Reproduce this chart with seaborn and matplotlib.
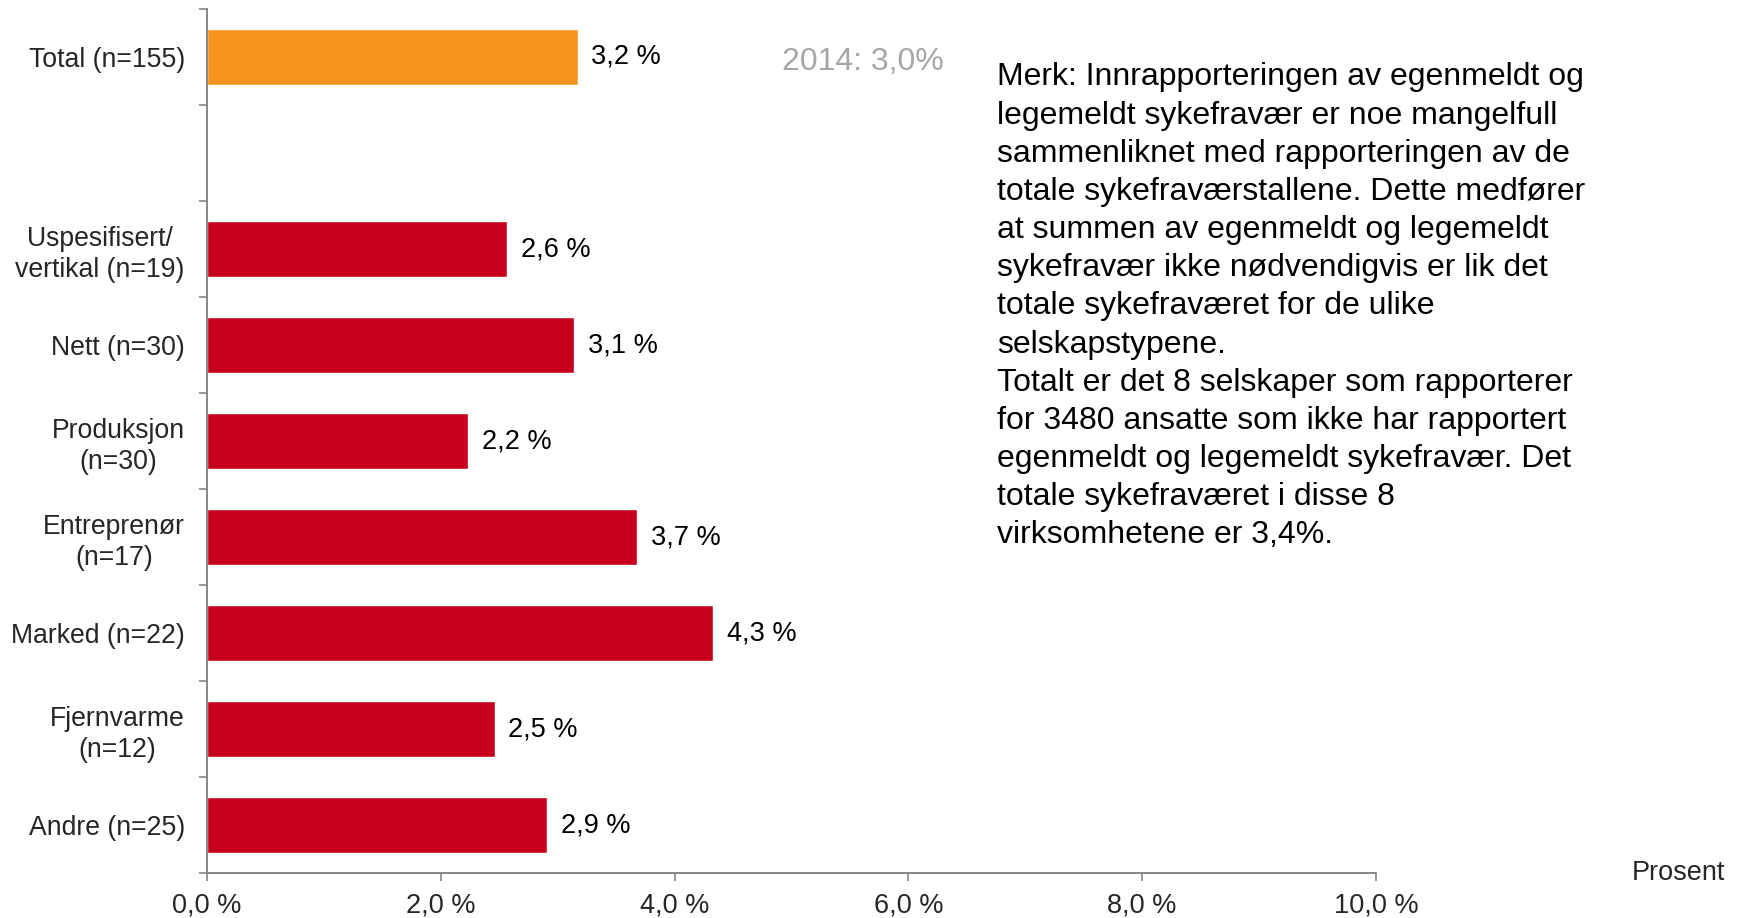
import pandas as pd
import seaborn as sns
import matplotlib.pyplot as plt

# Data
categories = ["Total (n=155)", "", "Uspesifisert/\nvertikal (n=19)", "Nett (n=30)",
              "Produksjon\n(n=30)", "Entreprenør\n(n=17)", "Marked (n=22)",
              "Fjernvarme\n(n=12)", "Andre (n=25)"]
values = [3.17, None, 2.57, 3.14, 2.23, 3.68, 4.33, 2.46, 2.91]
bar_colors = ["#F7941D", "#FFFFFF", "#C8001E", "#C8001E", "#C8001E",
              "#C8001E", "#C8001E", "#C8001E", "#C8001E"]
x_ticks = [0, 2, 4, 6, 8, 10]
x_tick_labels = ["0,0 %", "2,0 %", "4,0 %", "6,0 %", "8,0 %", "10,0 %"]
prev_year_text = "2014: 3,0%"
note_lines = [
    "Merk: Innrapporteringen av egenmeldt og",
    "legemeldt sykefravær er noe mangelfull",
    "sammenliknet med rapporteringen av de",
    "totale sykefraværstallene. Dette medfører",
    "at summen av egenmeldt og legemeldt",
    "sykefravær ikke nødvendigvis er lik det",
    "totale sykefraværet for de ulike",
    "selskapstypene.",
    "Totalt er det 8 selskaper som rapporterer",
    "for 3480 ansatte som ikke har rapportert",
    "egenmeldt og legemeldt sykefravær. Det",
    "totale sykefraværet i disse 8",
    "virksomhetene er 3,4%.",
]

sns.set_style("ticks")
plt.rcParams['font.family'] = ['Liberation Sans', 'DejaVu Sans']

df = pd.DataFrame({"kategori": categories, "verdi": values})
df_bars = df.dropna()
palette = dict(zip(categories, bar_colors))

fig = plt.figure(figsize=(17.43, 9.18), dpi=100)
ax = fig.add_axes([0.1188, 0.049, 0.6706, 0.9412])

sns.barplot(data=df_bars, x="verdi", y="kategori", hue="kategori", order=categories,
            palette=palette, width=0.58, saturation=1, legend=False, ax=ax, orient="h")

# value labels next to bars
for cont in ax.containers:
    labels = [f"{v:.1f} %".replace(".", ",") for v in cont.datavalues]
    ax.bar_label(cont, labels=labels, padding=10, fontsize=19.5, color="black")

ax.set_xlim(0, 10)
ax.set_ylim(len(categories) - 0.5, -0.5)
ax.set_xticks(x_ticks)
ax.set_xticklabels(x_tick_labels, fontsize=19.5)
ax.set_yticks(range(len(categories)))
ax.set_yticklabels(categories, fontsize=19.2, multialignment="center", linespacing=1.25)
ax.set_yticks([i - 0.5 for i in range(len(categories) + 1)], minor=True)
ax.tick_params(axis="y", which="major", left=False, length=0, pad=16)
ax.tick_params(axis="y", which="minor", left=True, length=6, width=1.2, color="#868686", direction="out")
ax.tick_params(axis="x", bottom=True, length=6, width=1.2, color="#868686", direction="out", pad=8)
ax.set_xlabel("")
ax.set_ylabel("")

for side in ["top", "right"]:
    ax.spines[side].set_visible(False)
for side in ["left", "bottom"]:
    ax.spines[side].set_color("#868686")
    ax.spines[side].set_linewidth(1.4)

fig.text(0.4949, 0.9325, prev_year_text, fontsize=23, color="#A6A6A6", ha="center", va="center")
fig.text(0.572, 0.932, "\n".join(note_lines), fontsize=23, color="black",
         ha="left", va="top", linespacing=1.355)
fig.text(0.9897, 0.0495, "Prosent", fontsize=19.5, ha="right", va="center")

fig.savefig("out.png", dpi=100)
